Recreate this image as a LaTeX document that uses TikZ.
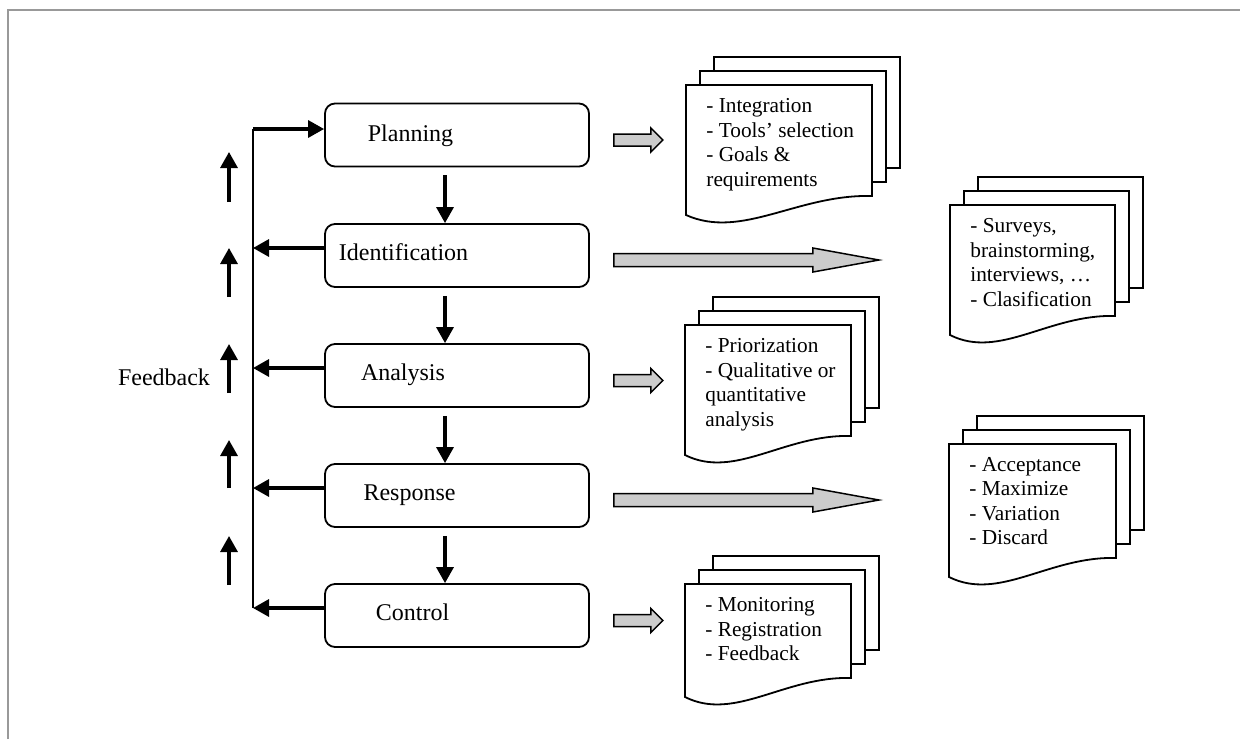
\documentclass[tikz,border=0pt]{standalone}
\usepackage{fontspec}
\setmainfont{Liberation Serif}
\usetikzlibrary{arrows.meta,calc}
\newcommand{\mydocs}[6]{%
  \draw[page] (#2+28,#3-28) rectangle (#2+#4+28,#3+#5-47);
  \draw[page] (#2+14,#3-14) rectangle (#2+#4+14,#3+#5-33);
  \draw[page] (#2,#3) -- (#2+#4,#3) -- (#2+#4,#3+#5-19)
     .. controls (#2+0.6*#4,#3+#5-21) and (#2+0.3*#4,#3+#5+25) .. (#2,#3+#5) -- cycle;
  \node[doctext] (#1) at (#2+20,#3+13) {#6};
}
\begin{document}
\begin{tikzpicture}[x=0.5pt,y=-0.5pt,
  stage/.style={draw,line width=0.9pt,rounded corners=5pt,minimum width=132pt,minimum height=31.5pt,inner sep=0pt},
  lbl/.style={font=\fontsize{12}{14}\selectfont,inner sep=0pt,anchor=base},
  arr/.style={line width=1.6pt,-{Triangle[length=8pt,width=8.5pt]}},
  spineline/.style={line width=0.8pt},
  barrow/.style={draw,line width=0.75pt,fill=black!20},
  page/.style={draw,line width=0.9pt,fill=white},
  doctext/.style={font=\fontsize{10.65}{12.25}\selectfont,align=left,anchor=north west,inner sep=0pt},
  frameline/.style={draw=black!40,line width=1pt},
  smallarrow/.pic={\draw[barrow] (0,-6) -- (37,-6) -- (37,-12) -- (49,0) -- (37,12) -- (37,6) -- (0,6) -- cycle;},
  bigarrow/.pic={\draw[barrow] (0,-6.5) -- (199,-6.5) -- (199,-12) -- (265,0) -- (199,12) -- (199,6.5) -- (0,6.5) -- cycle;}]
\useasboundingbox (0,0) rectangle (1240,739);
\draw[frameline] (8,739) -- (8,10) -- (1240,10);

% stages
\node[stage] (plan) at (457,135) {};
\node[stage] (ident) at (457,255.5) {};
\node[stage] (anal) at (457,375.5) {};
\node[stage] (resp) at (457,495.5) {};
\node[stage] (ctrl) at (457,615.5) {};
\node[lbl] (plant) at (410.5,141) {Planning};
\node[lbl] (identt) at (403.5,260) {Identification};
\node[lbl] (analt) at (403,380) {Analysis};
\node[lbl] (respt) at (409.5,500) {Response};
\node[lbl] (ctrlt) at (412.5,620) {Control};

% down arrows
\draw[arr] ($(plan.south)+(-12,8)$) -- ($(ident.north)+(-12,0)$);
\draw[arr] ($(ident.south)+(-12,8)$) -- ($(anal.north)+(-12,0)$);
\draw[arr] ($(anal.south)+(-12,8)$) -- ($(resp.north)+(-12,0)$);
\draw[arr] ($(resp.south)+(-12,8)$) -- ($(ctrl.north)+(-12,0)$);

% feedback spine
\coordinate (fbtop) at (253,129);
\coordinate (fbbot) at (253,608);
\draw[spineline] (fbtop) -- (fbbot);
\draw[arr] (fbtop) -- (fbtop -| plan.west);
\draw[arr] ($(ident.west)+(0,-7.5)$) coordinate (i1) -- (i1 -| fbtop);
\draw[arr] ($(anal.west)+(0,-7.5)$) coordinate (a1) -- (a1 -| fbtop);
\draw[arr] ($(resp.west)+(0,-7.5)$) coordinate (r1) -- (r1 -| fbtop);
\draw[arr] ($(ctrl.west)+(0,-7.5)$) coordinate (c1) -- (c1 -| fbtop);

% up arrows
\coordinate (u1s) at (229,202); \coordinate (u1e) at (229,152);
\coordinate (u2s) at (229,297); \coordinate (u2e) at (229,248);
\coordinate (u3s) at (229,393); \coordinate (u3e) at (229,344);
\coordinate (u4s) at (229,488); \coordinate (u4e) at (229,440);
\coordinate (u5s) at (229,585); \coordinate (u5e) at (229,536);
\draw[arr] (u1s) -- (u1e);
\draw[arr] (u2s) -- (u2e);
\draw[arr] (u3s) -- (u3e);
\draw[arr] (u4s) -- (u4e);
\draw[arr] (u5s) -- (u5e);
\node[lbl] (fb) at (164,385) {Feedback};

% block arrows
\pic at ($(plan.east)+(24,5)$) {smallarrow};
\pic at ($(ident.east)+(24,4.5)$) {bigarrow};
\pic at ($(anal.east)+(24,5)$) {smallarrow};
\pic at ($(resp.east)+(24,4.5)$) {bigarrow};
\pic at ($(ctrl.east)+(24,5)$) {smallarrow};

% documents
\mydocs{dplan}{686}{85}{186}{130}{- Integration\\- Tools’ selection\\- Goals \&\\requirements}
\mydocs{dident}{950}{205}{165}{130}{- Surveys,\\brainstorming,\\interviews, …\\- Clasification}
\mydocs{danal}{685}{325}{166}{130}{- Priorization\\- Qualitative or\\quantitative\\analysis}
\mydocs{dresp}{949}{444}{167}{133}{- Acceptance\\- Maximize\\- Variation\\- Discard}
\mydocs{dctrl}{685}{584}{166}{113}{- Monitoring\\- Registration\\- Feedback}
\end{tikzpicture}
\end{document}
